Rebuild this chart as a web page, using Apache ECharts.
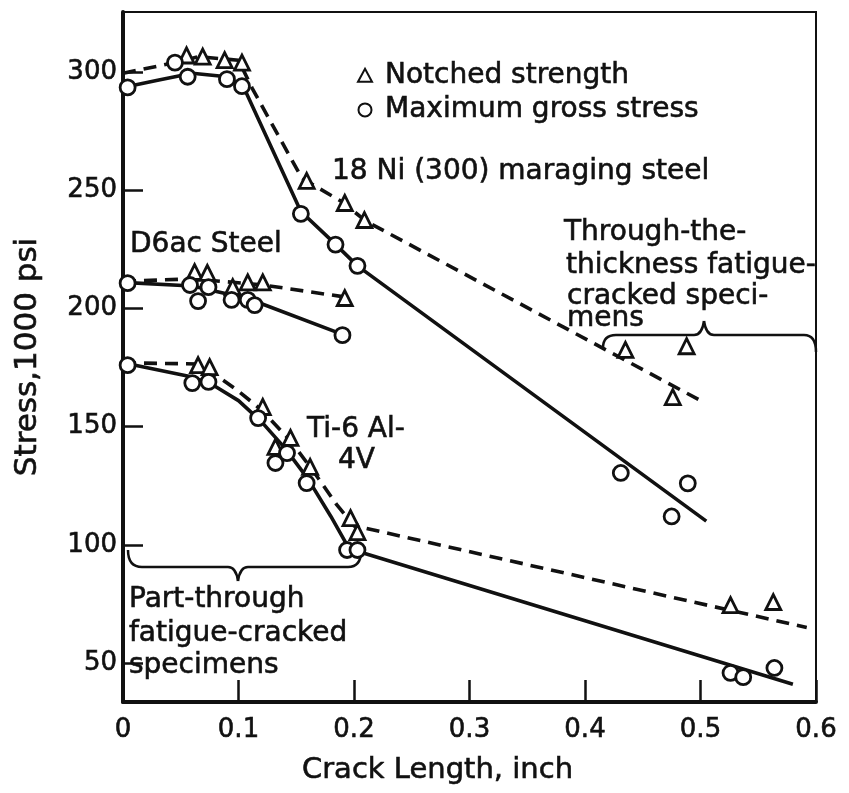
<!DOCTYPE html>
<html lang="en">
<head>
    <meta charset="utf-8">
    <title>Stress vs crack length</title>
    <script src="https://cdn.jsdelivr.net/npm/echarts@6.0.0/dist/echarts.min.js"></script>
</head>
<body style="margin:0;background:#fff">
    <div id="chart" style="width:849px;height:793px;"></div>

<script type="text/javascript">
// values: [crack length (inch), stress (1000 psi)]
var yTicks = [50, 100, 150, 200, 250, 300];

// 18 Ni (300) maraging steel
var niNotched = [[0.055,307],[0.069,306.5],[0.088,305],[0.103,304],[0.159,254],[0.192,244.6],[0.209,237.4],[0.435,182.5],[0.476,162.5],[0.488,184]];
var niGross = [[0.004,293.5],[0.045,304],[0.056,298],[0.090,297],[0.103,294],[0.154,240],[0.184,227],[0.203,218],[0.431,130.4],[0.475,112],[0.489,126]];
var niNotchedLine = [[0,299.5],[0.045,304],[0.065,306.5],[0.1,305],[0.112,293],[0.155,255],[0.19,245],[0.21,237],[0.502,160.5]];
var niGrossLine = [[0,293.5],[0.03,296.5],[0.06,299.5],[0.09,298],[0.105,293],[0.154,241],[0.18,229],[0.203,218],[0.505,110]];

// D6ac steel
var d6Notched = [[0.062,215.4],[0.073,215],[0.095,209],[0.108,211],[0.121,211],[0.192,204.4]];
var d6Gross = [[0.004,210.7],[0.058,209.9],[0.065,203.1],[0.074,209],[0.094,203.6],[0.108,203.6],[0.114,201.4],[0.19,188.7]];
var d6NotchedLine = [[0,211.5],[0.06,212.5],[0.12,210],[0.19,205]];
var d6GrossLine = [[0,211],[0.06,209.5],[0.1,205],[0.12,202],[0.19,189]];

// Ti-6Al-4V
var tiNotched = [[0.065,176],[0.075,175.2],[0.121,158.3],[0.132,141.4],[0.145,145.2],[0.162,133],[0.197,111.3],[0.203,105.4],[0.526,74.5],[0.563,75.8]];
var tiGross = [[0.004,176],[0.060,168.4],[0.074,168.9],[0.117,153.6],[0.132,134.6],[0.142,138.8],[0.159,126.1],[0.194,97.8],[0.203,97.8],[0.526,45.8],[0.537,44],[0.564,47.9]];
var tiNotchedLine = [[0,177],[0.065,176.5],[0.08,172],[0.1,165],[0.12,157],[0.145,144],[0.165,131],[0.185,117],[0.2,108],[0.21,107],[0.592,65]];
var tiGrossLine = [[0,177],[0.06,171],[0.08,167],[0.1,161],[0.12,152],[0.14,141],[0.16,128],[0.18,112],[0.195,99],[0.208,96.5],[0.58,41]];

var ink = '#111';
var font = '"DejaVu Sans", sans-serif';
// slight stroke so the type looks as heavy as the printed figure
var heavy = { textBorderColor: ink, textBorderWidth: 0.6 };

function curve(data, dashed) {
    return {
        type: 'line',
        data: data,
        symbol: 'none',
        silent: true,
        z: 2,
        lineStyle: { color: ink, width: 3.6, type: dashed ? [13, 8] : 'solid' }
    };
}

function label(text, x, y) {
    return {
        type: 'text', x: x, y: y, z: 10,
        style: { text: text, fill: ink, stroke: ink, lineWidth: 0.6, font: '28px ' + font, verticalAlign: 'middle' }
    };
}

// a curly brace: straight runs joined by quadratic curves
// pts: [start, ctrl, p, p, ctrl, tip, ctrl, p, p, ctrl, end]
function brace(p) {
    var st = { stroke: ink, lineWidth: 2.5, fill: null };
    function q(a, c, b) {
        return { type: 'bezierCurve', z: 3, silent: true, style: st,
            shape: { x1: a[0], y1: a[1], cpx1: c[0], cpy1: c[1], x2: b[0], y2: b[1] } };
    }
    function l(a, b) {
        return { type: 'line', z: 3, silent: true, style: st,
            shape: { x1: a[0], y1: a[1], x2: b[0], y2: b[1] } };
    }
    return [
        q(p[0], p[1], p[2]), l(p[2], p[3]), q(p[3], p[4], p[5]),
        q(p[5], p[6], p[7]), l(p[7], p[8]), q(p[8], p[9], p[10])
    ];
}

var myChart = echarts.init(document.getElementById('chart'));

myChart.setOption({
    backgroundColor: '#fff',
    animation: false,
    grid: {
        left: 123, top: 12, width: 693, height: 690,
        show: true, borderColor: ink, borderWidth: 2
    },
    legend: {
        orient: 'vertical',
        left: 352, top: 56,
        itemWidth: 14, itemHeight: 13, itemGap: 6,
        textStyle: Object.assign({ fontSize: 28, fontFamily: font, color: ink, padding: [0, 0, 0, 8] }, heavy),
        data: [
            { name: 'Notched strength', icon: 'triangle' },
            { name: 'Maximum gross stress', icon: 'circle' }
        ]
    },
    xAxis: {
        type: 'value',
        min: 0, max: 0.6, interval: 0.1,
        name: 'Crack Length, inch',
        nameLocation: 'middle',
        nameGap: 54,
        nameTextStyle: Object.assign({ fontSize: 29, fontFamily: font, color: ink, padding: [0, 64, 0, 0] }, heavy),
        axisLine: { lineStyle: { color: ink, width: 4 } },
        axisTick: { inside: true, length: 22, lineStyle: { color: ink, width: 2.5 } },
        axisLabel: Object.assign({
            fontSize: 26, fontFamily: font, color: ink, margin: 15,
            formatter: function (v) { return v === 0 ? '0' : v.toFixed(1); }
        }, heavy),
        splitLine: { show: false }
    },
    yAxis: {
        type: 'value',
        min: 33.5, max: 325.4,
        name: 'Stress,1000 psi',
        nameLocation: 'middle',
        nameGap: 80,
        nameTextStyle: Object.assign({ fontSize: 31, fontFamily: font, color: ink }, heavy),
        axisLine: { lineStyle: { color: ink, width: 4 } },
        axisTick: { inside: true, length: 20, lineStyle: { color: ink, width: 2.5 }, customValues: yTicks },
        axisLabel: Object.assign({ fontSize: 26, fontFamily: font, color: ink, margin: 6, customValues: yTicks }, heavy),
        splitLine: { show: false }
    },
    series: [
        curve(niNotchedLine, true),
        curve(niGrossLine, false),
        curve(d6NotchedLine, true),
        curve(d6GrossLine, false),
        curve(tiNotchedLine, true),
        curve(tiGrossLine, false),
        {
            name: 'Notched strength',
            type: 'scatter',
            symbol: 'triangle',
            symbolSize: 15,
            z: 5,
            itemStyle: { color: '#fff', borderColor: ink, borderWidth: 2.8, opacity: 1 },
            data: niNotched.concat(d6Notched, tiNotched)
        },
        {
            name: 'Maximum gross stress',
            type: 'scatter',
            symbol: 'circle',
            symbolSize: 15,
            z: 5,
            itemStyle: { color: '#fff', borderColor: ink, borderWidth: 2.8, opacity: 1 },
            data: niGross.concat(d6Gross, tiGross)
        }
    ],
    graphic: [
        label('18 Ni (300) maraging steel', 332, 172),
        label('D6ac Steel', 130, 245),
        label('Ti-6 Al-', 307, 430),
        label('4V', 338, 461),
        label('Through-the-', 564, 233),
        label('thickness fatigue-', 566, 266),
        label('cracked speci-', 567, 297),
        label('mens', 567, 319),
        label('Part-through', 129, 600),
        label('fatigue-cracked', 129, 634),
        label('specimens', 129, 666)
    ].concat(
        brace([[128,550],[128,567],[142,567],[228,567],[236,567],[238,581],[240,567],[248,567],[348,567],[361,567],[361,551]]),
        brace([[603,348],[603,335],[616,335],[694,335],[702,335],[704,321],[706,335],[714,335],[804,335],[816,335],[816,352]])
    )
});
</script>
</body>
</html>
